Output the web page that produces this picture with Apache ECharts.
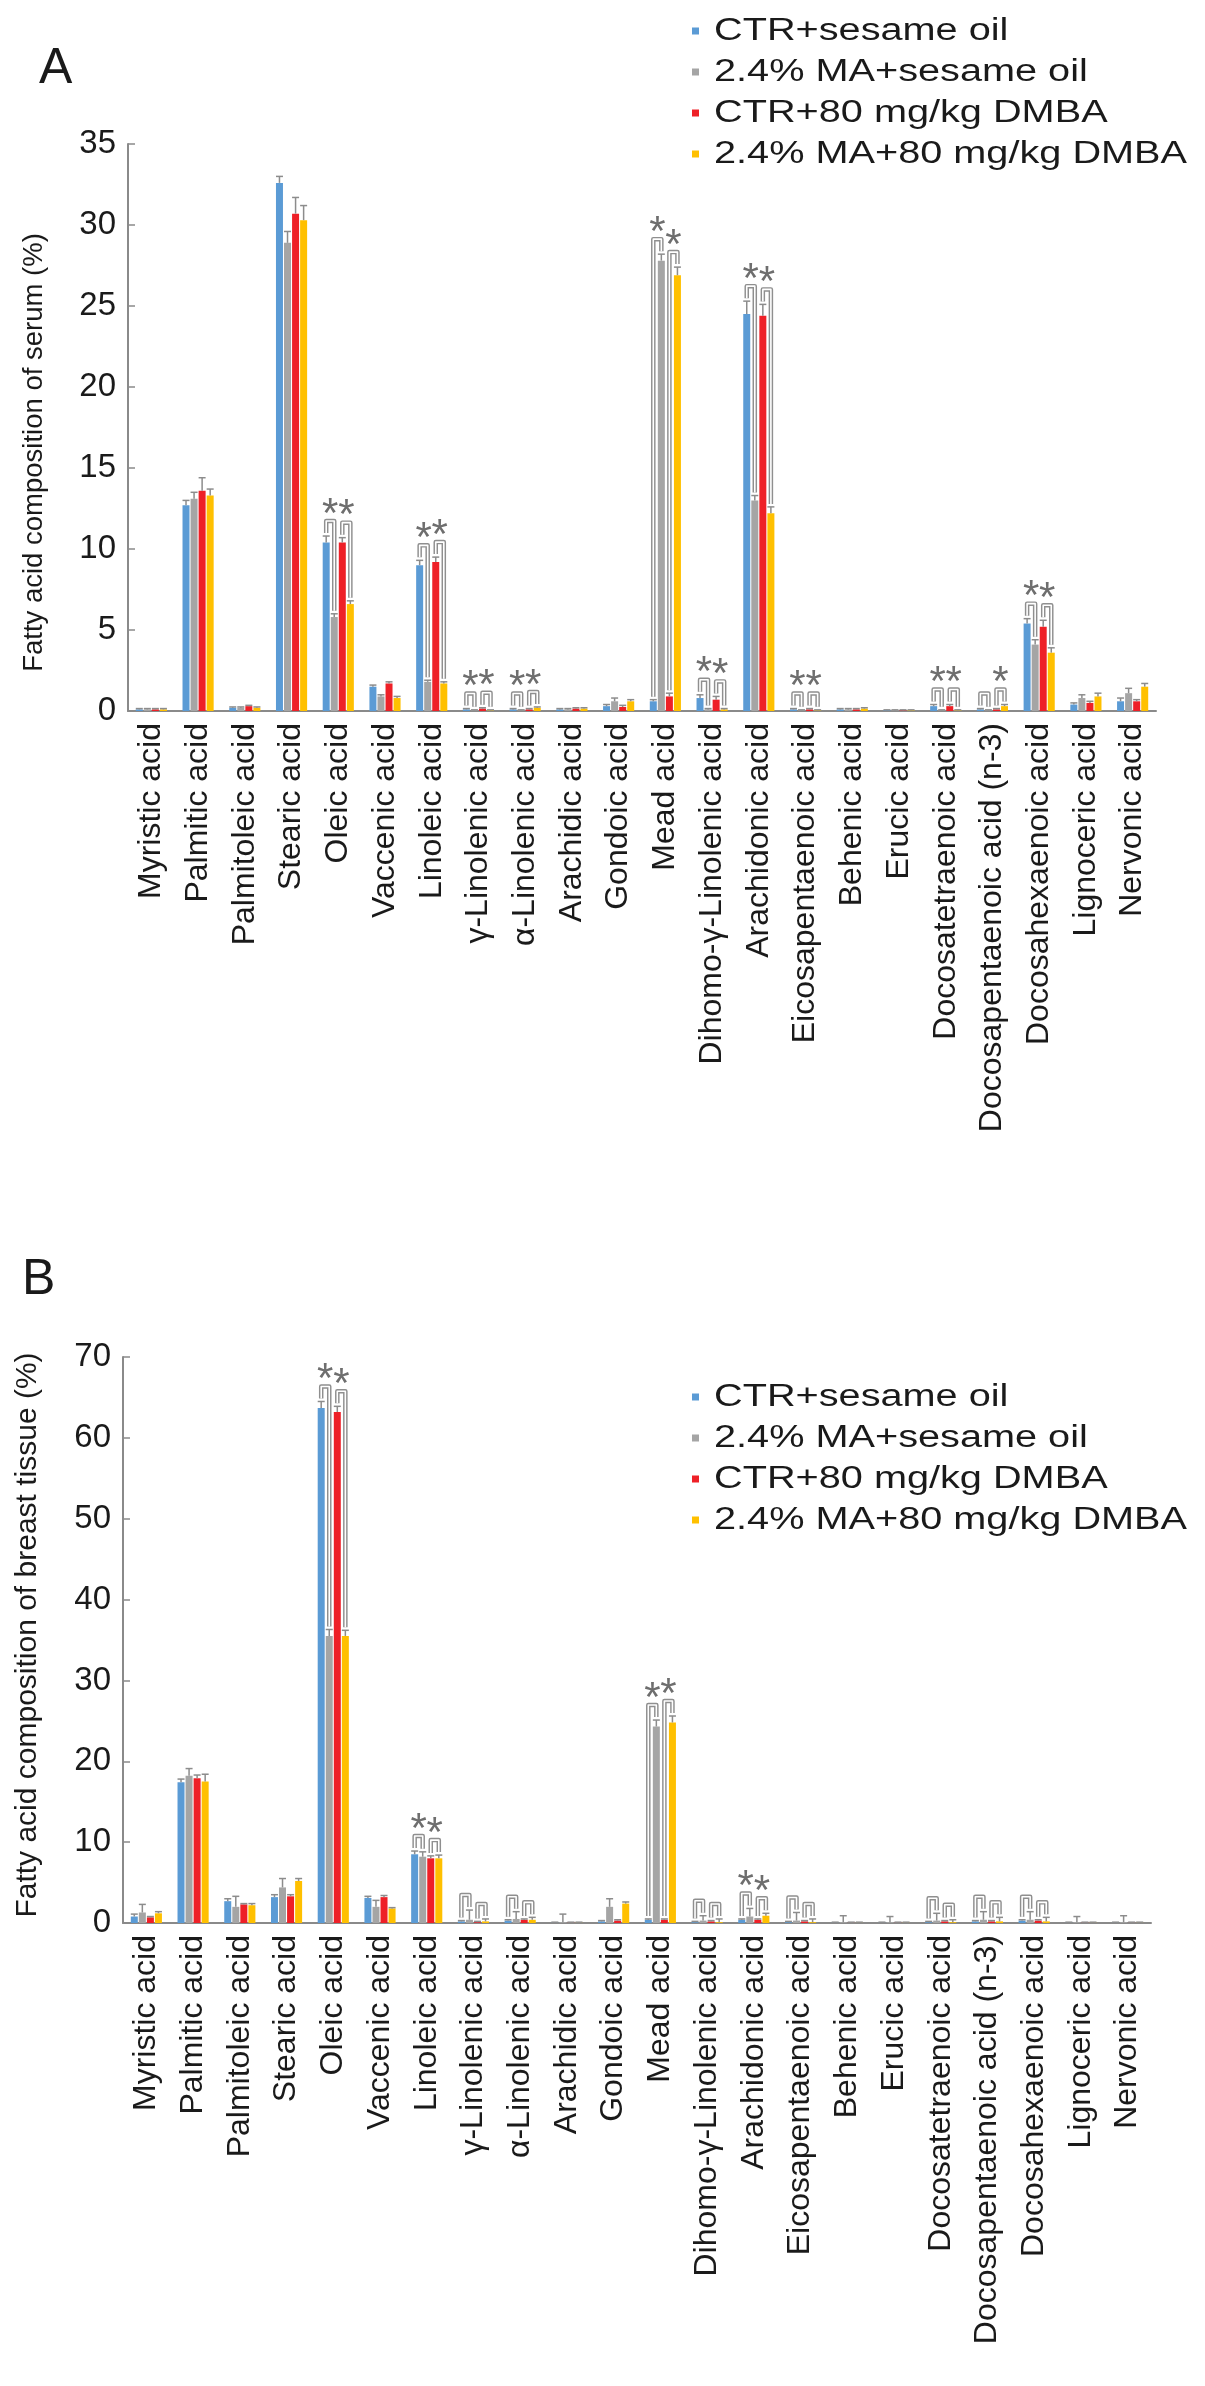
<!DOCTYPE html>
<html><head><meta charset="utf-8">
<script src="https://cdn.jsdelivr.net/npm/echarts@6/dist/echarts.min.js"></script>
<style>html,body{margin:0;padding:0;background:#fff}#c{width:1205px;height:2386px}</style>
</head><body><div id="c"></div>
<script>
const categories = ['Myristic acid','Palmitic acid','Palmitoleic acid','Stearic acid','Oleic acid','Vaccenic acid','Linoleic acid','γ-Linolenic acid','α-Linolenic acid','Arachidic acid','Gondoic acid','Mead acid','Dihomo-γ-Linolenic acid','Arachidonic acid','Eicosapentaenoic acid','Behenic acid','Erucic acid','Docosatetraenoic acid','Docosapentaenoic acid (n-3)','Docosahexaenoic acid','Lignoceric acid','Nervonic acid'];
const seriesNames = ['CTR+sesame oil','2.4% MA+sesame oil','CTR+80 mg/kg DMBA','2.4% MA+80 mg/kg DMBA'];

// Panel A: serum (%)
const serumCtrSesame  = [0.1,12.7,0.2,32.6,10.4,1.5,9.0,0.1,0.1,0.1,0.3,0.6,0.8,24.5,0.1,0.1,0.05,0.3,0.1,5.4,0.4,0.6];
const serumMaSesame   = [0.1,13.1,0.2,28.9,5.8,0.9,1.8,0.05,0.05,0.1,0.6,27.8,0.1,13.0,0.05,0.1,0.05,0.05,0.05,4.1,0.8,1.1];
const serumCtrDmba    = [0.1,13.6,0.3,30.7,10.4,1.7,9.2,0.15,0.1,0.15,0.25,0.9,0.7,24.4,0.1,0.1,0.05,0.3,0.1,5.2,0.5,0.6];
const serumMaDmba     = [0.1,13.3,0.2,30.3,6.6,0.8,1.7,0.05,0.2,0.15,0.6,26.9,0.1,12.2,0.05,0.15,0.05,0.05,0.3,3.6,0.9,1.5];
const serumErrCtrSesame = [0.05,0.3,0.05,0.4,0.4,0.1,0.3,0.05,0.05,0.05,0.1,0.1,0.2,0.8,0.05,0.05,0.02,0.1,0.05,0.3,0.1,0.2];
const serumErrMaSesame  = [0.05,0.4,0.05,0.7,0.2,0.1,0.1,0.02,0.02,0.05,0.2,0.4,0.05,0.3,0.02,0.05,0.02,0.02,0.02,0.3,0.2,0.3];
const serumErrCtrDmba   = [0.05,0.8,0.05,1.0,0.3,0.1,0.3,0.05,0.05,0.05,0.1,0.2,0.2,0.7,0.05,0.05,0.02,0.1,0.05,0.4,0.1,0.1];
const serumErrMaDmba    = [0.05,0.4,0.05,0.9,0.2,0.1,0.1,0.02,0.05,0.05,0.1,0.5,0.05,0.4,0.02,0.05,0.02,0.02,0.1,0.3,0.2,0.2];
// significance brackets: [category index, pair (0 = CTR/MA sesame, 1 = CTR/MA DMBA), asterisk]
const serumBrackets = [[4,0,1],[4,1,1],[6,0,1],[6,1,1],[7,0,1],[7,1,1],[8,0,1],[8,1,1],[11,0,1],[11,1,1],[12,0,1],[12,1,1],[13,0,1],[13,1,1],[14,0,1],[14,1,1],[17,0,1],[17,1,1],[18,0,0],[18,1,1],[19,0,1],[19,1,1]];

// Panel B: breast tissue (%)
const breastCtrSesame = [0.8,17.4,2.7,3.2,63.7,3.1,8.5,0.2,0.3,0.05,0.2,0.4,0.1,0.4,0.1,0.05,0.05,0.1,0.2,0.3,0.05,0.05];
const breastMaSesame  = [1.3,18.2,2.0,4.4,35.5,2.0,8.2,0.4,0.5,0.1,2.0,24.3,0.3,0.8,0.3,0.1,0.1,0.3,0.4,0.4,0.1,0.1];
const breastCtrDmba   = [0.7,17.9,2.3,3.3,63.2,3.2,8.0,0.1,0.4,0.05,0.3,0.4,0.2,0.4,0.2,0.05,0.05,0.2,0.2,0.3,0.05,0.05];
const breastMaDmba    = [1.2,17.5,2.2,5.2,35.5,1.8,8.0,0.2,0.4,0.05,2.4,24.8,0.1,0.9,0.1,0.05,0.05,0.1,0.2,0.2,0.05,0.05];
const breastErrCtrSesame = [0.3,0.4,0.3,0.3,0.8,0.2,0.4,0.1,0.1,0.05,0.1,0.1,0.1,0.1,0.1,0.05,0.05,0.1,0.1,0.1,0.05,0.05];
const breastErrMaSesame  = [1.0,0.9,1.3,1.1,0.8,0.8,0.6,1.2,0.9,1.0,1.0,0.8,0.6,1.0,1.0,0.8,0.7,0.9,1.0,1.0,0.7,0.8];
const breastErrCtrDmba   = [0.1,0.4,0.1,0.2,0.7,0.2,0.3,0.1,0.1,0.05,0.1,0.1,0.1,0.1,0.1,0.05,0.05,0.1,0.1,0.1,0.05,0.05];
const breastErrMaDmba    = [0.2,0.9,0.2,0.3,0.7,0.1,0.4,0.3,0.3,0.05,0.2,0.8,0.4,0.3,0.4,0.05,0.05,0.3,0.5,0.5,0.05,0.05];
const breastBrackets = [[4,0,1],[4,1,1],[6,0,1],[6,1,1],[7,0,0],[7,1,0],[8,0,0],[8,1,0],[11,0,1],[11,1,1],[12,0,0],[12,1,0],[13,0,1],[13,1,1],[14,0,0],[14,1,0],[17,0,0],[17,1,0],[18,0,0],[18,1,0],[19,0,0],[19,1,0]];

const yTicksA = {min:0, max:35, interval:5};
const yTicksB = {min:0, max:70, interval:10};

const colors = ['#5B9BD5','#A5A5A5','#EE2027','#FFC000'];
const FONT = 'Liberation Sans, Arial, Helvetica, sans-serif';
const BAR_W = 7, BAR_GAP = 0.15;
function barOffset(s){ const g = BAR_W*BAR_GAP; const total = 4*BAR_W + 3*g; return -total/2 + s*(BAR_W+g) + BAR_W/2; }

const panels = [
  {vals:[serumCtrSesame,serumMaSesame,serumCtrDmba,serumMaDmba], errs:[serumErrCtrSesame,serumErrMaSesame,serumErrCtrDmba,serumErrMaDmba], br:serumBrackets, ticks:yTicksA,
   name:'Fatty acid composition of serum (%)', nameSize:27.5, namePad:[0,50,0,0], nameGap:80,
   grid:{left:128, top:144, width:1028, height:567}, legendTop:31},
  {vals:[breastCtrSesame,breastMaSesame,breastCtrDmba,breastMaDmba], errs:[breastErrCtrSesame,breastErrMaSesame,breastErrCtrDmba,breastErrMaDmba], br:breastBrackets, ticks:yTicksB,
   name:'Fatty acid composition of breast tissue (%)', nameSize:30, namePad:[0,0,0,10], nameGap:80,
   grid:{left:123, top:1357, width:1028, height:566}, legendTop:1397}
];

function renderErr(params, api){
  const cat = api.value(0), top = api.value(1), s = api.value(2), v = api.value(3);
  const p0 = api.coord([cat, v]), p1 = api.coord([cat, top]);
  const x = p0[0] + barOffset(s);
  const st = {stroke:'#8c8c8c', lineWidth:1.5};
  return {type:'group', children:[
    {type:'line', shape:{x1:x, y1:p0[1], x2:x, y2:p1[1]}, style:st},
    {type:'line', shape:{x1:x-3.5, y1:p1[1], x2:x+3.5, y2:p1[1]}, style:st}
  ]};
}
function renderBr(params, api){
  const cat = api.value(0), t1 = api.value(2), t2 = api.value(3), pair = api.value(4), star = api.value(5);
  const c = api.coord([cat, 0])[0];
  const xa = c + barOffset(pair*2), xb = c + barOffset(pair*2+1);
  const ya = api.coord([cat, t1])[1] - 3, yb = api.coord([cat, t2])[1] - 3;
  const yt = Math.min(ya, yb) - 12;
  const d = 'M' + xa + ' ' + ya + 'L' + xa + ' ' + yt + 'L' + xb + ' ' + yt + 'L' + xb + ' ' + yb;
  const ch = [
    {type:'path', shape:{pathData:d}, style:{fill:'none', stroke:'#8f8f8f', lineWidth:4.5, lineJoin:'round'}},
    {type:'path', shape:{pathData:d}, style:{fill:'none', stroke:'#ffffff', lineWidth:1.6, lineJoin:'round'}}
  ];
  if (star) ch.push({type:'text', x:(xa+xb)/2, y:yt-6, style:{text:'*', fontSize:42, fontFamily:FONT, fill:'#6e6e6e', align:'center', verticalAlign:'middle'}});
  return {type:'group', children:ch};
}

// legends drawn as graphic rows (text is horizontally widened like the reference)
const graphic = [
  {type:'text', left:39, top:44, style:{text:'A', fontSize:50, fontFamily:FONT, fill:'#1a1a1a'}},
  {type:'text', left:22, top:1255, style:{text:'B', fontSize:50, fontFamily:FONT, fill:'#1a1a1a'}}
];
panels.forEach(p => {
  seriesNames.forEach((n, s) => {
    const y = p.legendTop + s*41;
    graphic.push({type:'rect', shape:{x:692, y:y-3.5, width:7, height:7}, style:{fill:colors[s]}});
    graphic.push({type:'text', x:714, y:y, scaleX:1.28, style:{text:n, fontSize:31, fontFamily:FONT, fill:'#1a1a1a', align:'left', verticalAlign:'middle'}});
  });
});

const option = {
  animation:false,
  backgroundColor:'#fff',
  color: colors,
  graphic: graphic,
  grid: panels.map(p => Object.assign({containLabel:false}, p.grid)),
  xAxis: panels.map((p,i) => ({
    type:'category', gridIndex:i, data:categories,
    axisLine:{lineStyle:{color:'#8a8a8a', width:2}},
    axisTick:{inside:true, length:5, interval:0, lineStyle:{color:'#8a8a8a', width:1.5}},
    axisLabel:{rotate:90, interval:0, fontSize:32, color:'#1a1a1a', fontFamily:FONT, margin:12}
  })),
  yAxis: panels.map((p,i) => ({
    type:'value', gridIndex:i, min:p.ticks.min, max:p.ticks.max, interval:p.ticks.interval,
    name:p.name, nameLocation:'middle', nameGap:p.nameGap,
    nameTextStyle:{fontSize:p.nameSize, color:'#1a1a1a', fontFamily:FONT, padding:p.namePad},
    axisLine:{show:true, lineStyle:{color:'#8a8a8a', width:2}},
    axisTick:{show:true, inside:true, length:7, lineStyle:{color:'#8a8a8a', width:1.5}},
    splitLine:{show:false},
    axisLabel:{fontSize:33, color:'#1a1a1a', fontFamily:FONT, margin:12}
  })),
  series: []
};

panels.forEach((p, pi) => {
  p.vals.forEach((arr, s) => {
    option.series.push({type:'bar', name:seriesNames[s], xAxisIndex:pi, yAxisIndex:pi, data:arr,
      barWidth:BAR_W, barGap:(BAR_GAP*100)+'%', itemStyle:{color:colors[s]}});
  });
  const errData = [];
  p.vals.forEach((arr, s) => arr.forEach((v, c) => errData.push([c, v + p.errs[s][c], s, v])));
  option.series.push({type:'custom', xAxisIndex:pi, yAxisIndex:pi, renderItem:renderErr, data:errData, z:5, silent:true,
    encode:{x:0, y:1}});
  const brData = p.br.map(b => {
    const c = b[0], i1 = b[1]*2, i2 = b[1]*2 + 1;
    const t1 = p.vals[i1][c] + p.errs[i1][c], t2 = p.vals[i2][c] + p.errs[i2][c];
    return [c, Math.max(t1,t2), t1, t2, b[1], b[2]];
  });
  option.series.push({type:'custom', xAxisIndex:pi, yAxisIndex:pi, renderItem:renderBr, data:brData, z:6, silent:true,
    encode:{x:0, y:1}});
});

const chart = echarts.init(document.getElementById('c'), null, {renderer:'canvas'});
chart.setOption(option);
</script>
</body></html>
